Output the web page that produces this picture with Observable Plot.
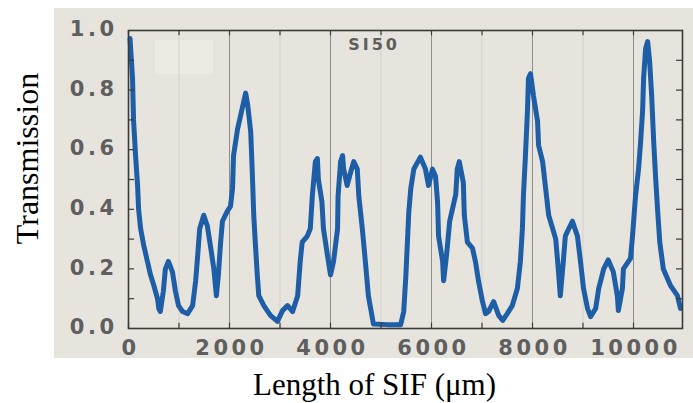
<!DOCTYPE html>
<html><head><meta charset="utf-8">
<script src="https://cdn.jsdelivr.net/npm/d3@7"></script>
<script src="https://cdn.jsdelivr.net/npm/@observablehq/plot@0.6"></script>
<style>
html,body{margin:0;padding:0;background:#fff;}
#wrap{position:relative;width:693px;height:403px;overflow:hidden;}
#panel{position:absolute;left:54px;top:8px;width:639px;height:350px;background:#e6e4dd;}
#box{position:absolute;left:155px;top:40px;width:58px;height:34px;background:#ecebe2;}
#chart{position:absolute;left:0;top:0;}
</style></head><body>
<div id="wrap"><div id="panel"></div><div id="box"></div><div id="chart"></div></div>
<script>
// Length of SIF (µm)
const lengths = [
  30, 80, 100, 140, 180, 200, 240, 300, 375, 435, 500, 575, 600, 630, 690, 730, 790, 870, 930, 990,
  1070, 1170, 1270, 1330, 1370, 1410, 1490, 1560, 1620, 1690, 1740, 1780, 1820, 1860, 1960, 2020,
  2060, 2080, 2160, 2220, 2320, 2360, 2420, 2450, 2480, 2510, 2550, 2580, 2680, 2810, 2950, 3050,
  3150, 3250, 3350, 3400, 3440, 3540, 3600, 3640, 3700, 3740, 3760, 3830, 3860, 3940, 4000, 4060,
  4140, 4150, 4200, 4240, 4260, 4330, 4400, 4460, 4530, 4560, 4630, 4690, 4750, 4830, 4850, 5130,
  5390, 5450, 5490, 5520, 5550, 5590, 5650, 5780, 5880, 5940, 6020, 6080, 6120, 6140, 6220, 6240,
  6300, 6360, 6440, 6480, 6510, 6550, 6630, 6650, 6710, 6810, 6870, 6930, 7010, 7070, 7130, 7230,
  7330, 7410, 7500, 7600, 7700, 7760, 7800, 7820, 7860, 7900, 7920, 7960, 8020, 8100, 8120, 8200,
  8260, 8320, 8400, 8460, 8510, 8550, 8610, 8650, 8690, 8790, 8890, 8950, 9010, 9090, 9150, 9250,
  9310, 9410, 9500, 9600, 9680, 9700, 9780, 9800, 9880, 9940, 9980, 10040, 10100, 10140, 10180, 10200,
  10240, 10280, 10320, 10360, 10400, 10440, 10480, 10520, 10590, 10730, 10870, 10930
];
// Transmission
const transmission = [
  0.973, 0.84, 0.70, 0.58, 0.48, 0.40, 0.335, 0.28, 0.225, 0.18, 0.145, 0.10, 0.067, 0.057, 0.125, 0.20, 0.225, 0.19, 0.125, 0.077,
  0.057, 0.05, 0.077, 0.16, 0.245, 0.335, 0.38, 0.345, 0.28, 0.20, 0.11, 0.18, 0.28, 0.36, 0.395, 0.41,
  0.47, 0.58, 0.67, 0.715, 0.79, 0.75, 0.66, 0.53, 0.38, 0.29, 0.18, 0.11, 0.077, 0.044, 0.024, 0.06,
  0.077, 0.057, 0.11, 0.225, 0.29, 0.31, 0.335, 0.445, 0.56, 0.57, 0.50, 0.425, 0.335, 0.245, 0.18, 0.225,
  0.335, 0.445, 0.56, 0.58, 0.535, 0.48, 0.525, 0.56, 0.535, 0.445, 0.335, 0.225, 0.11, 0.034, 0.015, 0.013,
  0.013, 0.057, 0.17, 0.28, 0.39, 0.47, 0.535, 0.575, 0.535, 0.48, 0.535, 0.51, 0.425, 0.31, 0.225, 0.16,
  0.25, 0.36, 0.42, 0.45, 0.535, 0.56, 0.49, 0.38, 0.29, 0.27, 0.225, 0.16, 0.09, 0.05, 0.057, 0.09,
  0.044, 0.027, 0.05, 0.077, 0.134, 0.225, 0.335, 0.445, 0.58, 0.73, 0.84, 0.855, 0.78, 0.695, 0.615, 0.56,
  0.47, 0.38, 0.335, 0.30, 0.20, 0.11, 0.225, 0.31, 0.325, 0.36, 0.31, 0.225, 0.134, 0.067, 0.04, 0.067,
  0.134, 0.20, 0.23, 0.19, 0.11, 0.06, 0.134, 0.20, 0.22, 0.235, 0.31, 0.445, 0.535, 0.625, 0.73, 0.84,
  0.94, 0.963, 0.895, 0.78, 0.625, 0.50, 0.39, 0.29, 0.20, 0.145, 0.11, 0.067
];
const xDomain = [0, 10970];
const xMajorTicks = [0, 2000, 4000, 6000, 8000, 10000];
const xMinorTicks = [1000, 3000, 5000, 7000, 9000];
const yMajorTicks = [0, 0.2, 0.4, 0.6, 0.8, 1.0];
const yMinorTicks = [0.1, 0.3, 0.5, 0.7, 0.9];
const annotations = [{label: "SI50", x: 4350, y: 0.935}];
const xTitle = "Length of SIF (\u03bcm)";
const yTitle = "Transmission";

const data = lengths.map((l, i) => ({length: l, t: transmission[i]}));
const allXTicks = xMajorTicks.concat(xMinorTicks);
const allYTicks = yMajorTicks.concat(yMinorTicks).filter(d => d > 0 && d < 1);

const tickFont = {fontSize: 21, fontWeight: "bold", fill: "#5f5f5f", fontFamily: "DejaVu Sans"};

const chart = Plot.plot({
  width: 693, height: 403,
  marginLeft: 128, marginRight: 11, marginTop: 30, marginBottom: 75,
  style: {background: "transparent", overflow: "visible"},
  x: {domain: xDomain},
  y: {domain: [0, 1]},
  marks: [
    Plot.ruleX(xMinorTicks, {stroke: "#d3d1ca", strokeWidth: 1}),
    Plot.ruleX(xMajorTicks.filter(d => d > 0), {stroke: "#8e8e8e", strokeWidth: 1}),
    Plot.line(data, {x: "length", y: "t", stroke: "#1d5ea7", strokeWidth: 5, strokeLinejoin: "round", strokeLinecap: "round"}),
    Plot.ruleX(allXTicks, {y1: 0, y2: 0.018, stroke: "#3a3a3a", strokeWidth: 1.2}),
    Plot.ruleX(allXTicks, {y1: 0.982, y2: 1, stroke: "#3a3a3a", strokeWidth: 1.2}),
    Plot.ruleY(allYTicks, {x1: 0, x2: 120, stroke: "#3a3a3a", strokeWidth: 1.2}),
    Plot.ruleY(allYTicks, {x1: xDomain[1] - 120, x2: xDomain[1], stroke: "#3a3a3a", strokeWidth: 1.2}),
    Plot.frame({stroke: "#3a3a3a", strokeWidth: 1.6}),
    Plot.axisX(xMajorTicks, {tickSize: 0, tickPadding: 12, dx: 2, tickFormat: d => String(d), label: null, ...tickFont}),
    Plot.axisY(yMajorTicks, {tickSize: 0, tickPadding: 11, dy: -1, tickFormat: d3.format(".1f"), label: null, ...tickFont}),
    Plot.text(annotations, {x: "x", y: "y", text: "label", textAnchor: "start", lineAnchor: "bottom", fontSize: 16, fontWeight: "bold", fill: "#5e5e5e", fontFamily: "DejaVu Sans"}),
    Plot.text([xTitle], {text: d => d, frameAnchor: "bottom", textAnchor: "middle", lineAnchor: "bottom", dx: -31, dy: 66, fontSize: 31, fontFamily: "Liberation Serif", fill: "#000"}),
    Plot.text([yTitle], {text: d => d, frameAnchor: "left", textAnchor: "middle", lineAnchor: "bottom", rotate: -90, dx: -91, dy: -21, fontSize: 32, fontFamily: "Liberation Serif", fill: "#000"})
  ]
});
document.getElementById("chart").appendChild(chart);
chart.querySelectorAll('[aria-label="x-axis tick label"] text, [aria-label="y-axis tick label"] text').forEach(t => t.style.letterSpacing = "3.5px");
chart.querySelectorAll('text').forEach(t => { if (t.textContent === "SI50") t.style.letterSpacing = "3px"; });
</script>
</body></html>
